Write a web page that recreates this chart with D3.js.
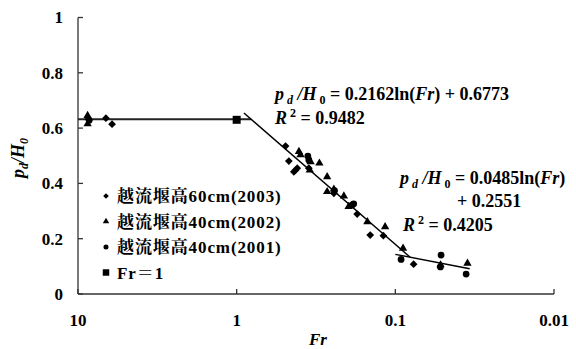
<!DOCTYPE html>
<html>
<head>
<meta charset="utf-8">
<script src="https://cdn.jsdelivr.net/npm/d3@7"></script>
<style>
  body { margin: 0; background: #fff; }
  svg { display: block; }
  text { font-family: "Liberation Serif", "Times New Roman", "Noto Serif CJK JP", "Noto Sans CJK JP", serif; font-weight: bold; fill: #000; }
</style>
</head>
<body>
<div id="chart"></div>
<script>
const width = 576, height = 349

// data: [Fr, pd/H0]
const weir60_2003 = [[8.6, 0.632], [6.67, 0.636], [6.1, 0.614], [0.492, 0.535], [0.469, 0.481],
  [0.436, 0.442], [0.426, 0.448], [0.415, 0.455], [0.351, 0.455], [0.244, 0.364], [0.174, 0.289],
  [0.144, 0.213], [0.119, 0.211], [0.0767, 0.108]]
const weir40_2002 = [[8.7, 0.645], [8.7, 0.615], [0.405, 0.515], [0.396, 0.503], [0.342, 0.478],
  [0.346, 0.448], [0.301, 0.473], [0.269, 0.424], [0.269, 0.370], [0.244, 0.379], [0.211, 0.354],
  [0.197, 0.316], [0.150, 0.261], [0.116, 0.243], [0.0894, 0.165], [0.0519, 0.105], [0.0351, 0.111]]
const weir40_2001 = [[8.5, 0.628], [0.356, 0.499], [0.351, 0.485], [0.242, 0.374], [0.187, 0.322],
  [0.183, 0.326], [0.092, 0.125], [0.0515, 0.141], [0.052, 0.098], [0.0358, 0.072]]
const frOne = [[1, 0.63]]

const seriesNames = ["越流堰高60cm(2003)", "越流堰高40cm(2002)", "越流堰高40cm(2001)", "Fr＝1"]

// fitted lines: pd/H0 = a ln(Fr) + b, drawn over [from, to]
const fit1 = { a: 0.2162, b: 0.6773, from: 0.9, to: 0.0806 }
const fit2 = { a: 0.0485, b: 0.2551, from: 0.1, to: 0.034 }
const plateau = { value: 0.632, from: 10, to: 0.811 }

const xTicks = [10, 1, 0.1, 0.01]
const yTicks = [0, 0.2, 0.4, 0.6, 0.8, 1]

const x = d3.scaleLog().domain([10, 0.01]).range([78, 554])
const y = d3.scaleLinear().domain([0, 1]).range([294, 17.5])

const svg = d3.select("#chart").append("svg")
    .attr("width", width)
    .attr("height", height)

// axes
const ax = svg.append("g").attr("stroke", "#333").attr("stroke-width", 1.3)
ax.append("line").attr("x1", x(10)).attr("x2", x(10)).attr("y1", y(1)).attr("y2", y(0))
ax.append("line").attr("x1", x(10)).attr("x2", x(0.01)).attr("y1", y(0)).attr("y2", y(0))
ax.selectAll(".yt").data(yTicks).join("line")
    .attr("x1", x(10)).attr("x2", x(10) + 5)
    .attr("y1", d => y(d)).attr("y2", d => y(d))
ax.selectAll(".xt").data(xTicks).join("line")
    .attr("x1", d => x(d)).attr("x2", d => x(d))
    .attr("y1", y(0)).attr("y2", y(0) - 5)

svg.selectAll(".ylab").data(yTicks).join("text")
    .attr("x", 63).attr("y", d => y(d)).attr("dy", "0.35em")
    .attr("text-anchor", "end").attr("font-size", 17)
    .text(d => d)
svg.selectAll(".xlab").data(xTicks).join("text")
    .attr("x", d => x(d)).attr("y", 326)
    .attr("text-anchor", "middle").attr("font-size", 17)
    .text(d => d)

svg.append("text").attr("x", 318).attr("y", 345)
    .attr("text-anchor", "middle").attr("font-size", 17).attr("font-style", "italic")
    .text("Fr")

const yt = svg.append("text")
    .attr("transform", "translate(24,158) rotate(-90)")
    .attr("text-anchor", "middle").attr("font-size", 18).attr("font-style", "italic")
yt.append("tspan").text("p")
yt.append("tspan").attr("font-size", 12).attr("dy", 4).text("d")
yt.append("tspan").attr("dy", -4).text("/H")
yt.append("tspan").attr("font-size", 12).attr("dy", 4).text("0")

// lines
const line = d3.line().x(d => x(d[0])).y(d => y(d[1]))
const fitPts = f => [f.from, f.to].map(fr => [fr, f.a * Math.log(fr) + f.b])
svg.append("path").attr("d", line([[plateau.from, plateau.value], [plateau.to, plateau.value]]))
    .attr("stroke", "#222").attr("stroke-width", 2).attr("fill", "none")
svg.append("path").attr("d", line(fitPts(fit1)))
    .attr("stroke", "#000").attr("stroke-width", 1.4).attr("fill", "none")
svg.append("path").attr("d", line(fitPts(fit2)))
    .attr("stroke", "#000").attr("stroke-width", 1.4).attr("fill", "none")

// markers
const shapes = [
  { data: weir60_2003, sym: d3.symbolSquare, size: 30, rot: 45, lsize: 16 },
  { data: weir40_2002, sym: d3.symbolTriangle, size: 30, rot: 0, lsize: 18 },
  { data: weir40_2001, sym: d3.symbolCircle, size: 36, rot: 0, lsize: 20 },
  { data: frOne, sym: d3.symbolSquare, size: 64, rot: 0, lsize: 42 }
]
shapes.forEach(s => {
  svg.append("g").selectAll("path").data(s.data).join("path")
      .attr("d", d3.symbol(s.sym, s.size))
      .attr("transform", d => `translate(${x(d[0])},${y(d[1])}) rotate(${s.rot})`)
      .attr("fill", "#000")
})

// legend
const legend = svg.append("g").selectAll("g").data(shapes).join("g")
    .attr("transform", (d, i) => `translate(106,${196 + i * 25.5})`)
legend.append("path")
    .attr("d", d => d3.symbol(d.sym, d.lsize)())
    .attr("transform", d => `rotate(${d.rot})`)
    .attr("fill", "#000")
legend.append("text")
    .attr("x", 11).attr("dy", "0.36em").attr("font-size", 17)
    .attr("letter-spacing", 0.9)
    .text((d, i) => seriesNames[i])

// equations
function eq(g, xPos, yPos, coefText, tail) {
  const t = g.append("text").attr("x", xPos).attr("y", yPos).attr("font-size", 18)
  t.append("tspan").attr("font-style", "italic").text("p")
  t.append("tspan").attr("font-style", "italic").attr("font-size", 12).attr("dy", 4).text(" d")
  t.append("tspan").attr("font-style", "italic").attr("dy", -4).text(" /H")
  t.append("tspan").attr("font-size", 12).attr("dy", 4).text(" 0")
  t.append("tspan").attr("dy", -4).text(" = " + coefText + "ln(")
  t.append("tspan").attr("font-style", "italic").text("Fr")
  t.append("tspan").text(tail)
}
function r2(g, xPos, yPos, val) {
  const t = g.append("text").attr("x", xPos).attr("y", yPos).attr("font-size", 18)
  t.append("tspan").attr("font-style", "italic").text("R")
  t.append("tspan").attr("font-size", 12).attr("dy", -7).text(" 2")
  t.append("tspan").attr("dy", 7).text(" = " + val)
}
const ann = svg.append("g")
eq(ann, 275, 100, fit1.a, ") + " + fit1.b)
r2(ann, 275, 124, "0.9482")
eq(ann, 400, 184, fit2.a, ")")
ann.append("text").attr("x", 457).attr("y", 207).attr("font-size", 18).text("+ " + fit2.b)
r2(ann, 403, 231, "0.4205")
</script>
</body>
</html>
